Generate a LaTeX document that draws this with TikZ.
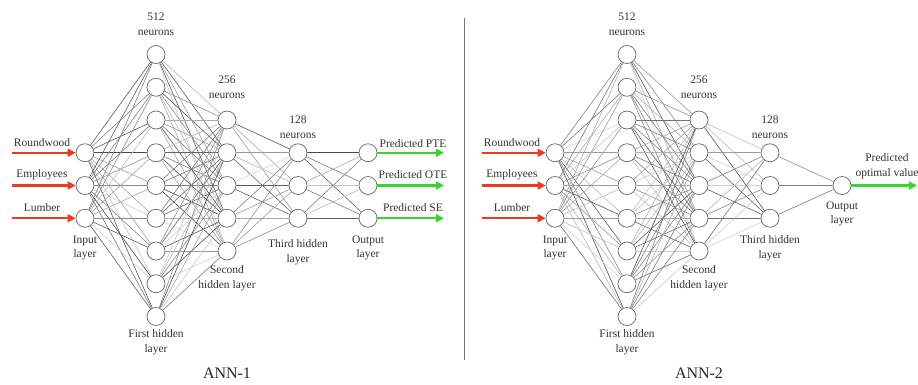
\documentclass[tikz,border=0pt]{standalone}
\usepackage{fontspec}
\setmainfont{Liberation Serif}
\usetikzlibrary{arrows.meta}
\definecolor{inred}{RGB}{236,58,32}
\definecolor{outgreen}{RGB}{56,214,44}
\begin{document}
\begin{tikzpicture}[x=1pt,y=-1pt,
  neuron/.style={circle,draw=black!60,fill=white,line width=0.7pt,minimum size=18pt,inner sep=0pt},
  lbl/.style={font=\fontsize{11.5}{14.5}\selectfont,text=black!80,align=center,inner sep=0pt},
  title/.style={font=\fontsize{16}{18}\selectfont,text=black!85,inner sep=0pt},
  edge/.style={line width=0.6pt},
  inarrow/.style={draw=inred,line width=2.2pt,-{Triangle[length=8pt,width=8pt]}},
  outarrow/.style={draw=outgreen,line width=2.2pt,-{Triangle[length=8pt,width=8pt]}},
  sep/.style={draw=black!55,line width=0.7pt}]
\useasboundingbox (0,0) rectangle (918,384);
\clip (0,0) rectangle (918,384);
\pgfmathsetseed{4217}
% ---------------- ANN-1 ----------------
\foreach \k in {1,...,3} \node[neuron] (ai\k) at (85,{185.5+32.75*(\k-2)}) {};
\foreach \k in {1,...,9} \node[neuron] (ah\k) at (156,{185.5+32.75*(\k-5)}) {};
\foreach \k in {1,...,5} \node[neuron] (ag\k) at (227,{185.5+32.75*(\k-3)}) {};
\foreach \k in {1,...,3} \node[neuron] (af\k) at (298,{185.5+32.75*(\k-2)}) {};
\foreach \k in {1,...,3} \node[neuron] (ao\k) at (368,{185.5+32.75*(\k-2)}) {};
\foreach \i in {1,...,3} \foreach \j in {1,...,9} {\pgfmathsetmacro\g{int(16+56*rnd)}\draw[edge,draw=black!\g] (ai\i) -- (ah\j);}
\foreach \i in {1,...,9} \foreach \j in {1,...,5} {\pgfmathsetmacro\g{int(16+56*rnd)}\draw[edge,draw=black!\g] (ah\i) -- (ag\j);}
\foreach \i in {1,...,5} \foreach \j in {1,...,3} {\pgfmathsetmacro\g{int(16+56*rnd)}\draw[edge,draw=black!\g] (ag\i) -- (af\j);}
\foreach \i in {1,...,3} \foreach \j in {1,...,3} {\pgfmathsetmacro\g{int(16+56*rnd)}\draw[edge,draw=black!\g] (af\i) -- (ao\j);}
% inputs
\coordinate (as1) at (12,152.75);
\coordinate (as2) at (12,185.5);
\coordinate (as3) at (12,218.25);
\draw[inarrow] (as1) -- (ai1);
\draw[inarrow] (as2) -- (ai2);
\draw[inarrow] (as3) -- (ai3);
\node[lbl] (al1) at (42,143) {Roundwood};
\node[lbl] (al2) at (42,175) {Employees};
\node[lbl] (al3) at (42,208) {Lumber};
% outputs
\coordinate (ae1) at (444,152.75);
\coordinate (ae2) at (444,185.5);
\coordinate (ae3) at (444,218.25);
\draw[outarrow] (ao1) -- (ae1);
\draw[outarrow] (ao2) -- (ae2);
\draw[outarrow] (ao3) -- (ae3);
\node[lbl] (ap1) at (413,144) {Predicted PTE};
\node[lbl] (ap2) at (413,175) {Predicted OTE};
\node[lbl] (ap3) at (413,208) {Predicted SE};
% layer labels
\node[lbl] (an1) at (156,24) {512\\neurons};
\node[lbl] (an2) at (227,87) {256\\neurons};
\node[lbl] (an3) at (298,127) {128\\neurons};
\node[lbl] (ani) at (85,248) {Input\\layer};
\node[lbl] (anf) at (156,342) {First hidden\\layer};
\node[lbl] (ans) at (227,278) {Second\\hidden layer};
\node[lbl] (ant) at (298,252) {Third hidden\\layer};
\node[lbl] (ano) at (368,248) {Output\\layer};
\node[title] (at) at (227,373) {ANN-1};
% separator
\coordinate (s1) at (464,18);
\coordinate (s2) at (464,360);
\draw[sep] (s1) -- (s2);
% ---------------- ANN-2 ----------------
\foreach \k in {1,...,3} \node[neuron] (bi\k) at (555,{185.5+32.75*(\k-2)}) {};
\foreach \k in {1,...,9} \node[neuron] (bh\k) at (627,{185.5+32.75*(\k-5)}) {};
\foreach \k in {1,...,5} \node[neuron] (bg\k) at (699,{185.5+32.75*(\k-3)}) {};
\foreach \k in {1,...,3} \node[neuron] (bf\k) at (770,{185.5+32.75*(\k-2)}) {};
\node[neuron] (bo) at (842,185.5) {};
\foreach \i in {1,...,3} \foreach \j in {1,...,9} {\pgfmathsetmacro\g{int(16+56*rnd)}\draw[edge,draw=black!\g] (bi\i) -- (bh\j);}
\foreach \i in {1,...,9} \foreach \j in {1,...,5} {\pgfmathsetmacro\g{int(16+56*rnd)}\draw[edge,draw=black!\g] (bh\i) -- (bg\j);}
\foreach \i in {1,...,5} \foreach \j in {1,...,3} {\pgfmathsetmacro\g{int(16+56*rnd)}\draw[edge,draw=black!\g] (bg\i) -- (bf\j);}
\foreach \i in {1,...,3} {\pgfmathsetmacro\g{int(30+30*rnd)}\draw[edge,draw=black!\g] (bf\i) -- (bo);}
\coordinate (bs1) at (482,152.75);
\coordinate (bs2) at (482,185.5);
\coordinate (bs3) at (482,218.25);
\draw[inarrow] (bs1) -- (bi1);
\draw[inarrow] (bs2) -- (bi2);
\draw[inarrow] (bs3) -- (bi3);
\node[lbl] (bl1) at (512,143) {Roundwood};
\node[lbl] (bl2) at (512,175) {Employees};
\node[lbl] (bl3) at (512,208) {Lumber};
\coordinate (be) at (917,185.5);
\draw[outarrow] (bo) -- (be);
\node[lbl] (bp) at (887,166) {Predicted\\optimal value};
\node[lbl] (bn1) at (627,24) {512\\neurons};
\node[lbl] (bn2) at (699,87) {256\\neurons};
\node[lbl] (bn3) at (770,127) {128\\neurons};
\node[lbl] (bni) at (555,248) {Input\\layer};
\node[lbl] (bnf) at (627,342) {First hidden\\layer};
\node[lbl] (bns) at (699,278) {Second\\hidden layer};
\node[lbl] (bnt) at (770,248) {Third hidden\\layer};
\node[lbl] (bno) at (842,214) {Output\\layer};
\node[title] (bt) at (699,373) {ANN-2};
\end{tikzpicture}
\end{document}
